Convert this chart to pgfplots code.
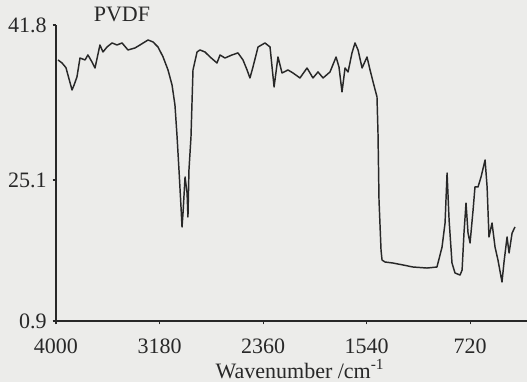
\documentclass[border=0pt]{standalone}
\usepackage{fontspec}
\setmainfont{Liberation Serif}
\usepackage{pgfplots}
\pgfplotsset{compat=1.18}
\usepackage{pgfplotstable}
\definecolor{paper}{RGB}{236,236,234}
\definecolor{ink}{RGB}{40,40,40}
\pgfplotstableread{
x y
3984 36.97
3952 36.55
3921 35.90
3873 32.82
3857 33.50
3834 34.62
3810 37.24
3770 36.97
3747 37.66
3715 36.69
3691 35.86
3652 39.04
3628 38.07
3596 38.76
3556 39.32
3517 39.04
3477 39.32
3430 38.35
3374 38.63
3335 39.04
3271 39.73
3232 39.46
3192 38.76
3152 37.38
3113 35.59
3081 33.51
3058 30.75
3042 26.60
3026 21.77
3010 16.65
3002 13.89
2994 15.82
2978 20.80
2962 18.59
2955 15.27
2947 21.77
2931 26.33
2923 31.03
2915 35.59
2883 38.07
2860 38.35
2820 38.07
2780 37.38
2725 36.55
2701 37.66
2662 37.24
2606 37.66
2559 37.94
2519 36.97
2487 35.59
2464 34.48
2440 36.00
2400 38.76
2345 39.32
2305 38.76
2273 33.24
2242 37.38
2210 35.17
2163 35.59
2123 35.17
2068 34.48
2012 35.86
1965 34.48
1925 35.31
1885 34.48
1830 35.31
1782 37.38
1759 36.00
1735 32.55
1711 35.86
1687 35.31
1656 37.94
1632 39.32
1608 38.35
1576 35.86
1537 37.38
1513 35.59
1489 33.93
1458 31.87
1450 26.88
1442 17.62
1426 10.71
1418 9.33
1394 9.05
1331 8.91
1252 8.64
1173 8.36
1062 8.22
983 8.36
943 11.10
919 14.44
903 21.35
887 14.86
864 8.91
840 7.53
800 7.25
784 7.95
769 13.06
753 17.20
737 13.06
721 11.68
697 16.24
682 19.42
658 19.42
634 20.80
602 23.15
586 19.42
571 12.51
547 14.44
523 11.10
500 9.33
468 6.29
452 9.05
428 12.51
412 10.30
388 13.06
365 13.89
}\spectrum
\begin{document}
\begin{tikzpicture}[x=1pt,y=1pt]
\fill[paper] (0,0) rectangle (395.25,286.5);
\useasboundingbox (0,0) rectangle (395.25,286.5);
\begin{axis}[
  at={(42pt,45.75pt)}, anchor=south west,
  scale only axis, width=353.25pt, height=222pt,
  x dir=reverse, xmin=270, xmax=4000, ymin=0.9, ymax=41.8,
  axis lines*=left, axis line style={ink, line width=1.1pt},
  xtick={4000,3180,2360,1540,720},
  ytick={0.9,20.38,41.8}, yticklabels={{\raisebox{-6pt}{0.9}},25.1,41.8},
  tick align=outside, major tick length=2.5pt, tick style={ink, line width=0.8pt},
  /pgf/number format/assume math mode=true,
  /pgf/number format/1000 sep={},
  ticklabel style={font=\fontsize{16.5}{18}\selectfont, text=ink},
  xticklabel style={yshift=-7pt},
  yticklabel style={xshift=-1pt},
  xlabel={Wavenumber /cm\textsuperscript{-1}},
  xlabel style={font=\fontsize{16.5}{18}\selectfont, text=ink, at={(axis description cs:0.518,-0.163)}, anchor=center},
  title={PVDF},
  title style={font=\fontsize{16.5}{18}\selectfont, text=ink, at={(axis description cs:0.14,0.985)}, anchor=base},
  clip=false,
]
\addplot[ink, line width=1.1pt, line join=round] table[x=x,y=y] {\spectrum};
\end{axis}
\end{tikzpicture}
\end{document}
